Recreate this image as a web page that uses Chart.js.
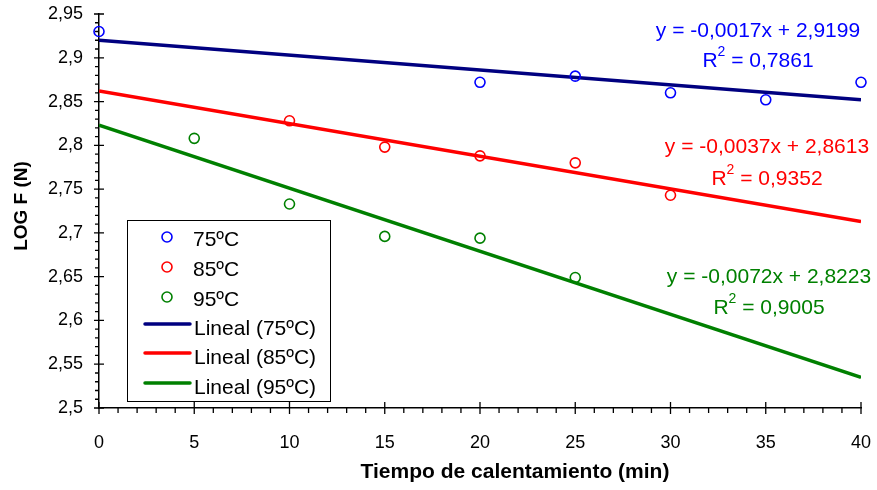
<!DOCTYPE html>
<html>
<head>
<meta charset="utf-8">
<script src="https://cdn.jsdelivr.net/npm/chart.js@4"></script>
<style>
  html, body { margin: 0; padding: 0; background: #fff; }
  #chart { display: block; }
</style>
</head>
<body>
<canvas id="chart" width="877" height="490"></canvas>
<script>
// data
const x75 = [0, 20, 25, 30, 35, 40]
const logF75 = [2.930, 2.872, 2.879, 2.860, 2.852, 2.872]
const x85 = [10, 15, 20, 25, 30]
const logF85 = [2.828, 2.798, 2.788, 2.780, 2.743]
const x95 = [5, 10, 15, 20, 25]
const logF95 = [2.808, 2.733, 2.696, 2.694, 2.649]

// trend line end points (x = 0 and x = 40)
const fitX = [0, 40]
const fit75 = [2.920, 2.852]
const fit85 = [2.862, 2.713]
const fit95 = [2.823, 2.535]

const xTickValues = [0, 5, 10, 15, 20, 25, 30, 35, 40]
const yTickValues = [2.5, 2.55, 2.6, 2.65, 2.7, 2.75, 2.8, 2.85, 2.9, 2.95]

const xTitle = "Tiempo de calentamiento (min)"
const yTitle = "LOG F (N)"
const seriesNames = ["75ºC", "85ºC", "95ºC"]
const fitNames = ["Lineal (75ºC)", "Lineal (85ºC)", "Lineal (95ºC)"]
const eqTexts = ["y = -0,0017x + 2,9199", "y = -0,0037x + 2,8613", "y = -0,0072x + 2,8223"]
const r2Texts = ["0,7861", "0,9352", "0,9005"]

const pointColors = ["#0000ff", "#ff0000", "#008000"]
const lineColors = ["#000080", "#ff0000", "#008000"]
const FONT = "'Liberation Sans', Arial, sans-serif"

function toPoints(xs, ys) {
  return xs.map((x, i) => ({ x: x, y: ys[i] }))
}

function commaLabel(v) {
  return Number(v.toFixed(2)).toString().replace(".", ",")
}

// minor / major tick marks like the spreadsheet axes
const tickMarks = {
  id: "tickMarks",
  afterDraw(chart) {
    const ctx = chart.ctx
    const xs = chart.scales.x
    const ys = chart.scales.y
    const axisY = ys.getPixelForValue(2.5)
    const axisX = xs.getPixelForValue(0)
    ctx.save()
    ctx.strokeStyle = "#000"
    ctx.lineWidth = 1.3
    ctx.beginPath()
    for (let i = 0; i <= 40; i++) {
      const px = xs.getPixelForValue(i)
      if (i % 5 === 0) {
        ctx.moveTo(px, axisY - 6)
        ctx.lineTo(px, axisY + 6)
      } else {
        ctx.moveTo(px, axisY)
        ctx.lineTo(px, axisY + 5)
      }
    }
    for (let i = 0; i <= 45; i++) {
      const py = ys.getPixelForValue(2.5 + i * 0.01)
      if (i % 5 === 0) {
        ctx.moveTo(axisX - 5, py)
        ctx.lineTo(axisX + 5, py)
      } else {
        ctx.moveTo(axisX - 4, py)
        ctx.lineTo(axisX, py)
      }
    }
    ctx.stroke()
    ctx.restore()
  },
}

// axis titles (placed like the spreadsheet does, not centred on the plot)
const axisTitles = {
  id: "axisTitles",
  afterDraw(chart) {
    const ctx = chart.ctx
    ctx.save()
    ctx.fillStyle = "#000"
    ctx.textAlign = "center"
    ctx.textBaseline = "middle"
    ctx.font = "bold 21px " + FONT
    ctx.fillText(xTitle, 515, 472)
    ctx.translate(22, 206)
    ctx.rotate(-Math.PI / 2)
    ctx.font = "bold 19px " + FONT
    ctx.fillText(yTitle, 0, 0)
    ctx.restore()
  },
}

// equations and R² next to each trend line
const equations = {
  id: "equations",
  afterDraw(chart) {
    const ctx = chart.ctx
    const spots = [
      { cx: 758, ey: 31, ry: 61 },
      { cx: 767, ey: 147, ry: 179 },
      { cx: 769, ey: 277, ry: 308 },
    ]
    ctx.save()
    ctx.textBaseline = "middle"
    spots.forEach((s, i) => {
      ctx.fillStyle = pointColors[i]
      ctx.font = "21px " + FONT
      ctx.textAlign = "center"
      ctx.fillText(eqTexts[i], s.cx, s.ey)

      // R² line with a raised 2
      ctx.textAlign = "left"
      const rest = " = " + r2Texts[i]
      ctx.font = "21px " + FONT
      const wR = ctx.measureText("R").width
      const wRest = ctx.measureText(rest).width
      ctx.font = "14px " + FONT
      const w2 = ctx.measureText("2").width
      let x = s.cx - (wR + w2 + wRest) / 2
      ctx.font = "21px " + FONT
      ctx.fillText("R", x, s.ry)
      x += wR
      ctx.font = "14px " + FONT
      ctx.fillText("2", x, s.ry - 9)
      x += w2
      ctx.font = "21px " + FONT
      ctx.fillText(rest, x, s.ry)
    })
    ctx.restore()
  },
}

// boxed legend inside the plot, as in the reference
const boxLegend = {
  id: "boxLegend",
  afterDraw(chart) {
    const ctx = chart.ctx
    const left = 127.5, top = 220.5, w = 203, h = 181
    ctx.save()
    ctx.fillStyle = "#fff"
    ctx.fillRect(left, top, w, h)
    ctx.strokeStyle = "#000"
    ctx.lineWidth = 1
    ctx.strokeRect(left, top, w, h)
    ctx.font = "21px " + FONT
    ctx.textBaseline = "middle"
    ctx.textAlign = "left"
    const rowY = [237, 267, 297, 324, 353, 383]
    for (let i = 0; i < 3; i++) {
      ctx.beginPath()
      ctx.arc(167, rowY[i], 5, 0, Math.PI * 2)
      ctx.strokeStyle = pointColors[i]
      ctx.lineWidth = 1.6
      ctx.stroke()
      ctx.fillStyle = "#000"
      ctx.fillText(seriesNames[i], 193, rowY[i] + 3)
    }
    for (let i = 0; i < 3; i++) {
      const y = rowY[i + 3]
      ctx.beginPath()
      ctx.moveTo(145, y)
      ctx.lineTo(190, y)
      ctx.strokeStyle = lineColors[i]
      ctx.lineWidth = 3.5
      ctx.lineCap = "round"
      ctx.stroke()
      ctx.fillStyle = "#000"
      ctx.fillText(fitNames[i], 194, y + 5)
    }
    ctx.restore()
  },
}

function scatterSet(label, xs, ys, color) {
  return {
    type: "scatter",
    label: label,
    data: toPoints(xs, ys),
    showLine: false,
    pointStyle: "circle",
    pointRadius: 5,
    pointHoverRadius: 5,
    pointBorderWidth: 1.6,
    pointBorderColor: color,
    pointBackgroundColor: "rgba(0,0,0,0)",
    clip: false,
    order: 1,
  }
}

function fitSet(label, ys, color) {
  return {
    type: "line",
    label: label,
    data: toPoints(fitX, ys),
    borderColor: color,
    borderWidth: 3.5,
    pointRadius: 0,
    tension: 0,
    fill: false,
    order: 2,
  }
}

const ctx = document.getElementById("chart").getContext("2d")
new Chart(ctx, {
  type: "scatter",
  data: {
    datasets: [
      scatterSet(seriesNames[0], x75, logF75, pointColors[0]),
      scatterSet(seriesNames[1], x85, logF85, pointColors[1]),
      scatterSet(seriesNames[2], x95, logF95, pointColors[2]),
      fitSet(fitNames[0], fit75, lineColors[0]),
      fitSet(fitNames[1], fit85, lineColors[1]),
      fitSet(fitNames[2], fit95, lineColors[2]),
    ],
  },
  options: {
    responsive: false,
    animation: false,
    devicePixelRatio: 1,
    layout: { padding: { left: 0, right: 16, top: 14, bottom: 0 } },
    plugins: {
      legend: { display: false },
      tooltip: { enabled: false },
    },
    scales: {
      x: {
        type: "linear",
        min: 0,
        max: 40,
        afterBuildTicks: (s) => { s.ticks = xTickValues.map((v) => ({ value: v })) },
        afterFit: (s) => { s.height = 82; s.paddingLeft = 0; s.paddingRight = 0 },
        grid: { display: false, drawTicks: false },
        border: { display: true, color: "#000", width: 1.5 },
        ticks: {
          color: "#000",
          padding: 24,
          font: { family: FONT, size: 18 },
          maxRotation: 0,
          callback: (v) => commaLabel(v),
        },
      },
      y: {
        type: "linear",
        min: 2.5,
        max: 2.95,
        afterBuildTicks: (s) => { s.ticks = yTickValues.map((v) => ({ value: v })) },
        afterFit: (s) => { s.width = 99; s.paddingTop = 0; s.paddingBottom = 0 },
        grid: { display: false, drawTicks: false },
        border: { display: true, color: "#000", width: 1.5 },
        ticks: {
          color: "#000",
          padding: 16,
          font: { family: FONT, size: 18 },
          callback: (v) => commaLabel(v),
        },
      },
    },
  },
  plugins: [tickMarks, axisTitles, equations, boxLegend],
})
</script>
</body>
</html>
